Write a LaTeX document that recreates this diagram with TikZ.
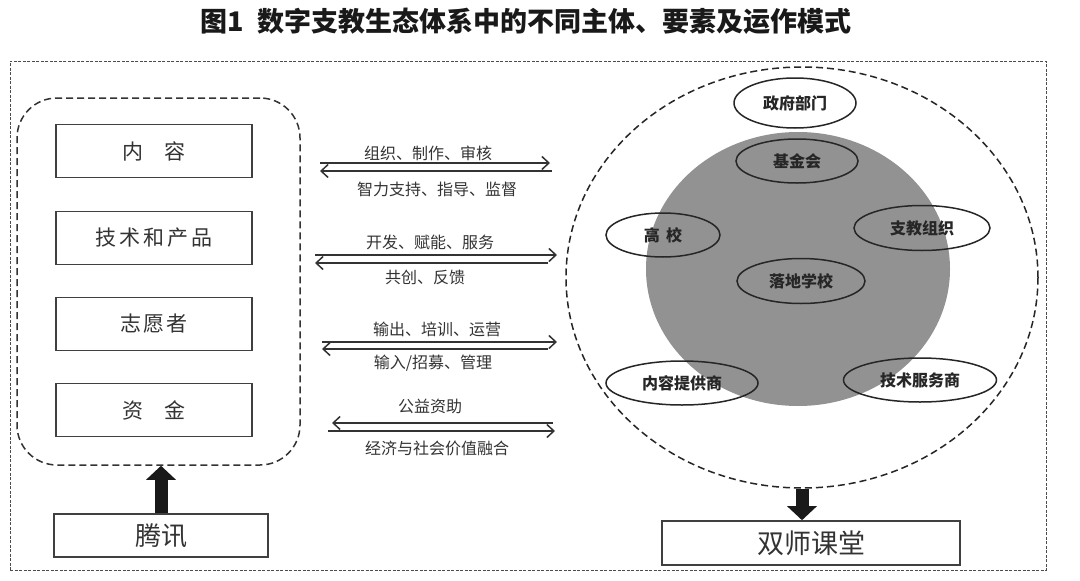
\documentclass[tikz,border=0pt]{standalone}
\usepackage{fontspec}
\setmainfont{Noto Sans CJK SC}
\usetikzlibrary{shapes.geometric,arrows.meta}
\begin{document}
\begin{tikzpicture}[x=1pt,y=-1pt,
  boxnode/.style={draw=black!75, line width=1.6pt, minimum width=196pt, minimum height=53pt, inner sep=0pt, font=\fontsize{21}{21}\selectfont, text=black!80},
  oval/.style={ellipse, draw=black!85, line width=1.5pt, inner sep=0pt, font=\fontsize{16}{16}\selectfont\bfseries, text=black!85},
  lbl/.style={font=\fontsize{16}{16}\selectfont, text=black!80, inner sep=0pt},
  flow/.style={draw=black!80, line width=1.9pt, -{Straight Barb[length=7pt,width=13pt,line width=1.5pt]}},
  bigarrow/.style={draw=black!90, line width=13pt, -{Triangle[length=14pt,width=29pt]}},
]
\useasboundingbox (0,0) rectangle (1080,581);
\fill[white] (0,0) rectangle (1080,581);

% title
\node[font=\fontsize{27}{27}\selectfont\bfseries, text=black!90, inner sep=0pt] (title) at (526,21) {图1\hspace{0.5em}数字支教生态体系中的不同主体、要素及运作模式};

% outer frame
\node[draw=black!70, line width=1pt, dash pattern=on 3pt off 1.5pt, minimum width=1036pt, minimum height=509pt, inner sep=0pt] (frame) at (528,315.5) {};

% left group
\node[draw=black!80, line width=1.5pt, dash pattern=on 7pt off 4pt, rounded corners=40pt, minimum width=283pt, minimum height=367pt, inner sep=0pt] (grp) at (158.5,281.5) {};
\node[boxnode] (nr) at (154,151) {内\hspace{1em}容};
\node[boxnode] (js) at (154,238) {技\hspace{0.15em}术\hspace{0.15em}和\hspace{0.15em}产\hspace{0.15em}品};
\node[boxnode] (zy) at (154,324) {志\hspace{0.1em}愿\hspace{0.1em}者};
\node[boxnode] (zj) at (154,410) {资\hspace{1em}金};

% tencent
\node[draw=black!75, line width=1.6pt, minimum width=214pt, minimum height=43pt, inner sep=0pt, font=\fontsize{26}{26}\selectfont, text=black!80] (tx) at (161,535.5) {腾讯};
\draw[bigarrow] (tx.north) -- (tx.north |- grp.south);

% right ecosystem
\node[ellipse, draw=black!85, line width=1.5pt, dash pattern=on 7pt off 4pt, minimum width=472pt, minimum height=421pt, inner sep=0pt] (circ) at (802,277.5) {};
\node[ellipse, fill={rgb,255:red,146;green,146;blue,146}, minimum width=304pt, minimum height=274pt, inner sep=0pt] (gray) at (798,269) {};

\node[oval, minimum width=122pt, minimum height=50pt] (zf) at (795,103) {政府部门};
\node[oval, minimum width=122pt, minimum height=44pt] (jj) at (797,161) {基金会};
\node[oval, minimum width=114pt, minimum height=44pt] (gx) at (663,235) {高\hspace{0.4em}校};
\node[oval, minimum width=136pt, minimum height=45pt] (zz) at (922,228) {支教组织};
\node[oval, minimum width=128pt, minimum height=45pt] (ld) at (801,281) {落地学校};
\node[oval, minimum width=152pt, minimum height=44pt] (nt) at (682,383) {内容提供商};
\node[oval, minimum width=153pt, minimum height=44pt] (jf) at (920,380) {技术服务商};

% dual-teacher classroom
\node[draw=black!75, line width=1.6pt, minimum width=298pt, minimum height=44pt, inner sep=0pt, font=\fontsize{27}{27}\selectfont, text=black!80] (sk) at (811,543) {双师课堂};
\draw[bigarrow] (circ.south) -- (circ.south |- sk.north);

% middle flows
\coordinate (a1l) at (320,163); \coordinate (a1r) at (550,163);
\coordinate (b1r) at (552,171); \coordinate (b1l) at (320,171);
\coordinate (a2l) at (315,255); \coordinate (a2r) at (557,255);
\coordinate (b2r) at (548,263); \coordinate (b2l) at (315,263);
\coordinate (a3l) at (322,342); \coordinate (a3r) at (557,342);
\coordinate (b3r) at (548,349); \coordinate (b3l) at (322,349);
\coordinate (a4r) at (553,423); \coordinate (a4l) at (332,423);
\coordinate (b4l) at (328,431); \coordinate (b4r) at (555,431);

\draw[flow] (a1l) -- (a1r);
\draw[flow] (b1r) -- (b1l);
\draw[flow] (a2l) -- (a2r);
\draw[flow] (b2r) -- (b2l);
\draw[flow] (a3l) -- (a3r);
\draw[flow] (b3r) -- (b3l);
\draw[flow] (a4r) -- (a4l);
\draw[flow] (b4l) -- (b4r);

\node[lbl] (t1a) at (428,153) {组织、制作、审核};
\node[lbl] (t1b) at (437,189) {智力支持、指导、监督};
\node[lbl] (t2a) at (430,242) {开发、赋能、服务};
\node[lbl] (t2b) at (425,277) {共创、反馈};
\node[lbl] (t3a) at (437,329) {输出、培训、运营};
\node[lbl] (t3b) at (433,363) {输入/招募、管理};
\node[lbl] (t4a) at (430,406) {公益资助};
\node[lbl] (t4b) at (437,448) {经济与社会价值融合};
\end{tikzpicture}
\end{document}
